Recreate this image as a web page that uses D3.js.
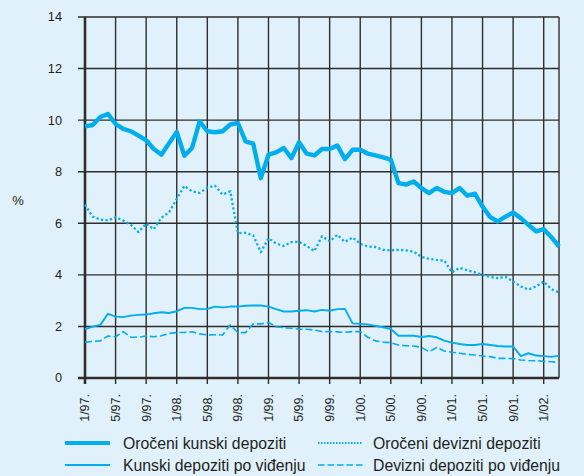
<!DOCTYPE html>
<html>
<head>
<meta charset="utf-8">
<script src="https://cdn.jsdelivr.net/npm/d3@7"></script>
<style>
  html, body { margin: 0; padding: 0; background: #e0f1fb; }
  svg { display: block; }
  text { font-family: "Liberation Sans", Arial, Helvetica, sans-serif; fill: #231f20; }
</style>
</head>
<body>
<svg id="chart" width="584" height="476"></svg>
<script>
// Monthly interest rates, 1/1997 – 3/2002 (63 months, index 0 = 1/97)
const tickLabels = ["1/97.","5/97.","9/97.","1/98.","5/98.","9/98.","1/99.","5/99.","9/99.",
                    "1/00.","5/00.","9/00.","1/01.","5/01.","9/01.","1/02."];
const tickMonths = [0,4,8,12,16,20,24,28,32,36,40,44,48,52,56,60];
const yTicks = [0,2,4,6,8,10,12,14];

const orocKunski = [9.76,9.81,10.12,10.24,9.85,9.66,9.57,9.40,9.22,8.88,8.66,9.11,9.54,8.62,8.92,9.95,
  9.57,9.53,9.57,9.83,9.89,9.18,9.09,7.75,8.66,8.75,8.92,8.53,9.14,8.70,8.63,8.88,
  8.88,9.02,8.49,8.85,8.85,8.70,8.63,8.56,8.47,7.56,7.50,7.62,7.37,7.17,7.37,7.22,
  7.17,7.37,7.07,7.15,6.65,6.24,6.07,6.26,6.42,6.20,5.94,5.69,5.77,5.46,5.10];

const orocDevizni = [6.72,6.26,6.14,6.11,6.24,6.11,5.94,5.66,5.99,5.77,6.22,6.42,6.95,7.45,7.24,7.18,
  7.38,7.46,7.11,7.24,5.62,5.63,5.53,4.88,5.42,5.22,5.12,5.27,5.28,5.12,4.92,5.50,
  5.30,5.55,5.28,5.45,5.20,5.10,5.08,4.97,4.95,4.97,4.95,4.90,4.70,4.62,4.58,4.55,
  4.10,4.27,4.18,4.10,4.00,3.92,3.87,3.92,3.74,3.55,3.43,3.55,3.74,3.45,3.31];

const kunskiVidenje = [1.89,1.99,2.06,2.49,2.38,2.36,2.42,2.45,2.46,2.51,2.55,2.52,2.59,2.72,2.72,2.67,
  2.68,2.77,2.74,2.77,2.77,2.80,2.81,2.81,2.77,2.67,2.58,2.58,2.61,2.63,2.58,2.64,
  2.61,2.67,2.68,2.12,2.10,2.08,2.02,1.97,1.90,1.64,1.64,1.64,1.59,1.63,1.58,1.45,
  1.37,1.32,1.28,1.28,1.32,1.28,1.24,1.22,1.22,0.85,0.96,0.87,0.85,0.82,0.87];

const devizniVidenje = [1.39,1.42,1.44,1.63,1.60,1.80,1.58,1.58,1.63,1.60,1.64,1.73,1.76,1.77,1.79,1.71,
  1.67,1.68,1.67,2.06,1.76,1.76,2.10,2.10,2.15,1.99,1.95,1.93,1.89,1.89,1.86,1.80,
  1.80,1.79,1.77,1.80,1.80,1.58,1.44,1.39,1.37,1.28,1.25,1.24,1.19,1.02,1.18,1.05,
  1.00,0.96,0.92,0.89,0.85,0.83,0.76,0.76,0.75,0.70,0.68,0.67,0.65,0.63,0.60];

const seriesNames = ["Oročeni kunski depoziti","Oročeni devizni depoziti",
                     "Kunski depoziti po viđenju","Devizni depoziti po viđenju"];

const lineColor = "#00aeef";
const gridColor = "#2e2e2e";

const svg = d3.select("#chart");
const plotLeft = 85, plotRight = 559, plotTop = 17, plotBottom = 378;

const x = d3.scaleLinear().domain([0, orocKunski.length - 1]).range([plotLeft, plotRight]);
const y = d3.scaleLinear().domain([0, 14]).range([plotBottom, plotTop]);

// horizontal grid with tick stubs on the left
const g = svg.append("g");
g.selectAll("line.h").data(yTicks).join("line")
  .attr("x1", plotLeft - 7).attr("x2", plotRight)
  .attr("y1", d => y(d)).attr("y2", d => y(d))
  .attr("stroke", gridColor).attr("stroke-width", d => d === 0 ? 2.6 : 1.4);

// vertical grid with tick stubs below the axis
g.selectAll("line.v").data(tickMonths).join("line")
  .attr("x1", d => x(d)).attr("x2", d => x(d))
  .attr("y1", plotTop).attr("y2", plotBottom + 6)
  .attr("stroke", gridColor).attr("stroke-width", d => d === 0 ? 2.6 : 1.4);

// right frame edge
g.append("line").attr("x1", plotRight).attr("x2", plotRight)
  .attr("y1", plotTop).attr("y2", plotBottom)
  .attr("stroke", gridColor).attr("stroke-width", 1.4);

// y labels
svg.append("g").selectAll("text").data(yTicks).join("text")
  .attr("x", 62).attr("y", d => y(d)).attr("dy", "0.35em")
  .attr("text-anchor", "end").attr("font-size", 12.8).text(d => d);

svg.append("text").attr("x", 18).attr("y", 200).attr("dy", "0.35em")
  .attr("text-anchor", "middle").attr("font-size", 13).text("%");

// rotated x labels
svg.append("g").selectAll("text").data(tickMonths).join("text")
  .attr("transform", d => `translate(${x(d)},${plotBottom + 16}) rotate(-90)`)
  .attr("dy", "0.35em").attr("text-anchor", "end").attr("font-size", 12.5)
  .text((d, i) => tickLabels[i]);

// series lines
const line = d3.line().x((d, i) => x(i)).y(d => y(d));
const styles = [
  { data: devizniVidenje, width: 1.6, dash: "7,3" },
  { data: kunskiVidenje, width: 1.9, dash: null },
  { data: orocDevizni, width: 2.3, dash: "2.2,2.4" },
  { data: orocKunski, width: 4.4, dash: null }
];
styles.forEach(s => {
  svg.append("path").datum(s.data)
    .attr("d", line).attr("fill", "none")
    .attr("stroke", lineColor).attr("stroke-width", s.width)
    .attr("stroke-linejoin", "round")
    .attr("stroke-dasharray", s.dash);
});

// legend
const legend = [
  { name: seriesNames[0], col: 0, row: 0, width: 4.2, dash: null },
  { name: seriesNames[1], col: 1, row: 0, width: 1.8, dash: "1.5,1.5" },
  { name: seriesNames[2], col: 0, row: 1, width: 1.9, dash: null },
  { name: seriesNames[3], col: 1, row: 1, width: 1.5, dash: "6.5,3" }
];
const colX = [65, 318], rowY = [443, 465];
const lg = svg.append("g").selectAll("g").data(legend).join("g")
  .attr("transform", d => `translate(${colX[d.col]},${rowY[d.row]})`);
lg.append("line").attr("x1", 0).attr("x2", 45).attr("y1", 0).attr("y2", 0)
  .attr("stroke", lineColor).attr("stroke-width", d => d.width)
  .attr("stroke-dasharray", d => d.dash);
lg.append("text").attr("x", d => d.col === 0 ? 58 : 55).attr("y", 0).attr("dy", "0.35em")
  .attr("font-size", 15.8).text(d => d.name);
</script>
</body>
</html>
